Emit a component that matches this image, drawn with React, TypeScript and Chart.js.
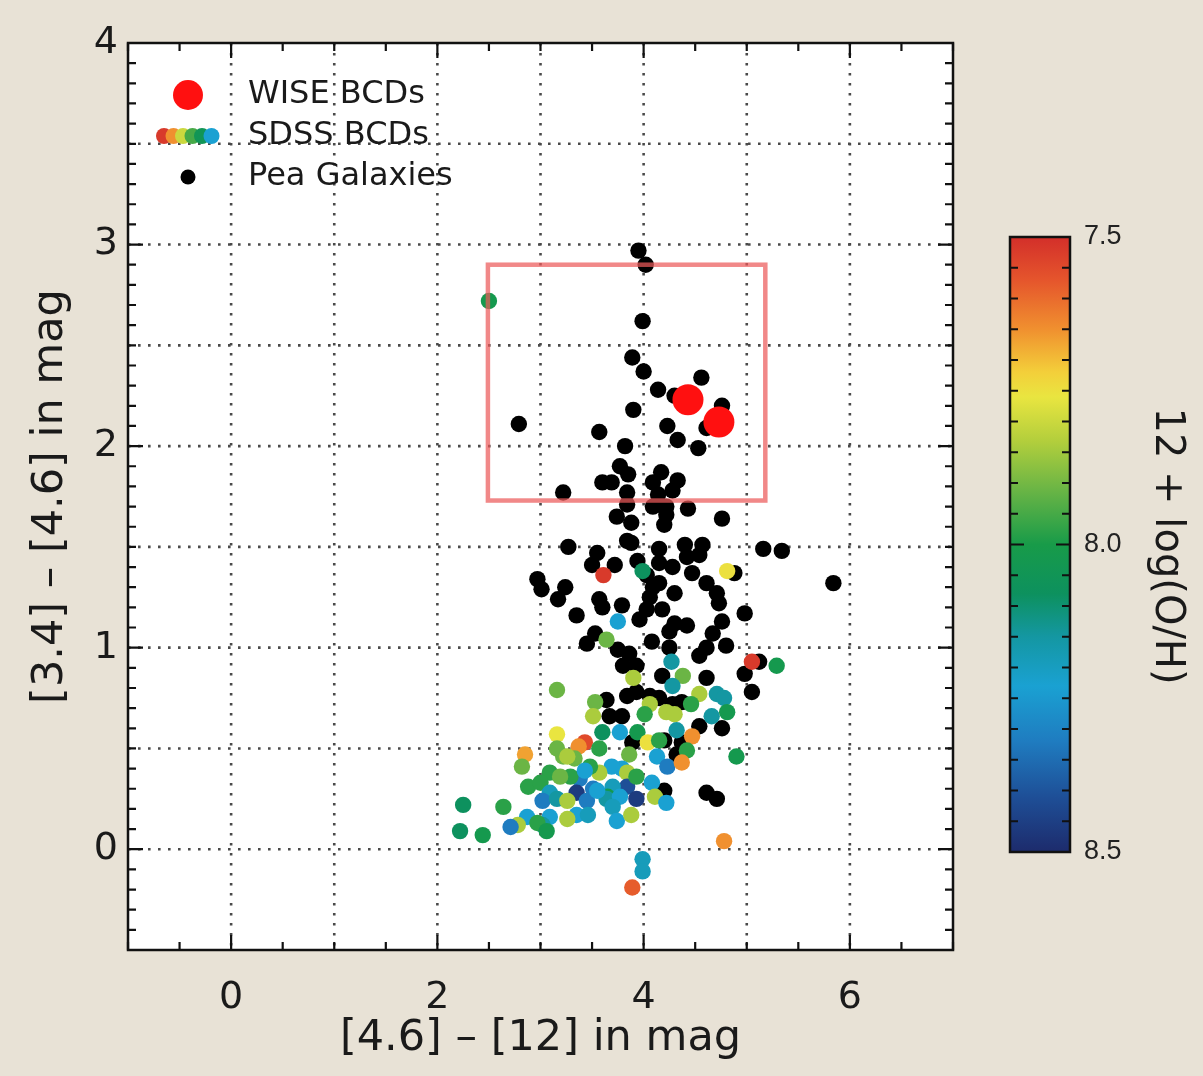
import React, { useEffect, useRef } from "react";
import { Chart, registerables } from "chart.js";

Chart.register(...registerables);

// ---------- DATA ----------
// Pea galaxies: [4.6]-[12] (x) and [3.4]-[4.6] (y)
const peaX = [
  3.95, 4.02, 3.99, 3.89, 4.0, 4.14, 4.56, 4.3, 4.76, 3.9, 4.23, 4.33, 4.53, 4.61, 2.79, 3.57, 3.82, 3.77, 3.85, 3.6,
  3.69, 3.84, 3.22, 4.17, 4.33, 4.09, 4.28, 4.14, 3.84, 4.09, 4.22, 4.43, 3.74, 3.88, 4.22, 4.2, 4.76, 3.84, 3.27, 3.55,
  3.5, 3.72, 3.94, 4.15, 4.4, 4.57, 4.42, 4.54, 5.16, 5.34, 4.15, 4.28, 4.47, 4.88, 5.84, 2.97, 3.01, 3.24, 3.17, 3.35,
  3.57, 3.6, 3.79, 4.03, 4.15, 4.3, 4.06, 4.03, 3.96, 4.18, 4.3, 4.42, 4.25, 4.61, 4.71, 4.73, 4.76, 4.67, 4.98, 3.53,
  3.45, 3.75, 3.86, 4.08, 4.25, 4.54, 4.61, 4.8, 3.8, 3.93, 4.18, 4.61, 4.98, 5.12, 5.05, 3.64, 3.84, 3.93, 4.06, 4.15,
  3.67, 3.79, 4.28, 4.37, 4.54, 4.76, 4.37, 4.2, 4.61, 4.71, 4.2, 4.09, 3.89, 4.32, 3.88, 4.15,
];
const peaY = [
  2.97, 2.9, 2.62, 2.44, 2.37, 2.28, 2.34, 2.25, 2.2, 2.18, 2.1, 2.03, 1.99, 2.09, 2.11, 2.07, 2.0, 1.9, 1.86, 1.82,
  1.82, 1.77, 1.77, 1.87, 1.83, 1.82, 1.78, 1.76, 1.71, 1.7, 1.7, 1.69, 1.65, 1.62, 1.66, 1.61, 1.64, 1.53, 1.5, 1.47,
  1.41, 1.41, 1.43, 1.49, 1.51, 1.51, 1.45, 1.46, 1.49, 1.48, 1.42, 1.4, 1.37, 1.37, 1.32, 1.34, 1.29, 1.3, 1.24, 1.16,
  1.24, 1.2, 1.21, 1.36, 1.32, 1.27, 1.25, 1.19, 1.14, 1.19, 1.12, 1.11, 1.08, 1.32, 1.27, 1.22, 1.13, 1.07, 1.17, 1.07,
  1.02, 0.99, 0.97, 1.03, 1.0, 0.96, 1.0, 1.01, 0.91, 0.91, 0.86, 0.85, 0.87, 0.93, 0.78, 0.74, 0.76, 0.78, 0.76, 0.75,
  0.66, 0.66, 0.72, 0.73, 0.61, 0.6, 0.53, 0.54, 0.28, 0.25, 0.29, 1.3, 0.53, 0.47, 1.52, 1.71,
];

// SDSS BCDs: colours plus metallicity 12 + log(O/H)
const sdssX = [
  2.5, 3.61, 3.99, 4.81, 3.75, 3.64, 5.05, 5.29, 4.27, 4.38, 4.28, 3.9, 4.71, 4.54, 3.16, 3.53, 3.51, 3.16, 3.43, 3.37,
  2.85, 3.6, 3.77, 3.94, 4.06, 4.01, 4.22, 4.3, 4.46, 4.78, 4.66, 4.81, 4.47, 4.04, 4.15, 4.32, 4.42, 4.13, 4.23, 4.37,
  3.86, 3.79, 3.84, 3.69, 3.57, 3.48, 3.33, 3.22, 4.9, 3.38, 3.29, 3.51, 3.35, 3.84, 3.93, 4.08, 4.11, 4.22, 3.7, 3.65,
  3.16, 3.26, 3.57, 2.82, 3.09, 3.19, 3.43, 2.88, 3.0, 3.09, 3.02, 3.16, 3.26, 3.45, 3.64, 3.77, 3.7, 3.35, 3.46, 3.26,
  3.09, 3.02, 2.87, 2.78, 2.71, 2.97, 3.06, 3.74, 3.88, 2.25, 2.64, 2.22, 2.44, 3.99, 3.99, 3.89, 4.78, 3.93, 3.55,
];
const sdssY = [
  2.72, 1.36, 1.38, 1.38, 1.13, 1.04, 0.93, 0.91, 0.93, 0.86, 0.81, 0.85, 0.77, 0.77, 0.79, 0.73, 0.66, 0.57, 0.53, 0.51,
  0.47, 0.58, 0.58, 0.58, 0.72, 0.67, 0.68, 0.67, 0.72, 0.75, 0.66, 0.68, 0.56, 0.53, 0.54, 0.59, 0.49, 0.46, 0.41, 0.43,
  0.47, 0.4, 0.38, 0.41, 0.38, 0.41, 0.45, 0.46, 0.46, 0.35, 0.36, 0.3, 0.28, 0.31, 0.25, 0.33, 0.26, 0.23, 0.31, 0.26,
  0.5, 0.46, 0.5, 0.41, 0.38, 0.36, 0.39, 0.31, 0.33, 0.28, 0.24, 0.25, 0.24, 0.24, 0.25, 0.26, 0.21, 0.17, 0.17, 0.15,
  0.16, 0.12, 0.16, 0.12, 0.11, 0.13, 0.09, 0.14, 0.17, 0.22, 0.21, 0.09, 0.07, -0.05, -0.11, -0.19, 0.04, 0.36, 0.29,
];
const sdssZ = [
  8.02, 7.52, 8.08, 7.75, 8.23, 7.91, 7.52, 8.02, 8.15, 7.91, 8.15, 7.84, 8.15, 7.84, 7.91, 7.91, 7.84, 7.76, 7.55, 7.65,
  7.67, 8.08, 8.23, 8.02, 7.84, 7.98, 7.84, 7.84, 7.98, 8.15, 8.15, 8.02, 7.65, 7.75, 7.98, 8.15, 7.98, 8.23, 8.32, 7.65,
  7.91, 8.23, 7.84, 8.23, 7.84, 7.98, 7.91, 7.91, 8.02, 8.32, 7.98, 8.32, 8.46, 8.41, 8.46, 8.23, 7.84, 8.23, 8.19, 8.02,
  7.91, 7.84, 7.98, 7.91, 7.98, 7.91, 8.23, 7.98, 7.98, 8.19, 8.32, 8.15, 7.84, 8.32, 8.15, 8.23, 8.19, 8.23, 8.19, 7.84,
  8.23, 8.15, 8.23, 7.84, 8.32, 7.98, 8.02, 8.23, 7.84, 8.08, 7.98, 8.08, 8.02, 8.19, 8.19, 7.58, 7.65, 7.98, 8.23,
];

// WISE BCDs
const wiseX = [4.43, 4.73];
const wiseY = [2.23, 2.12];

// Selection box (data units)
const boxX = [2.49, 5.18];
const boxY = [1.73, 2.9];

// Axis ticks
const xTicks = [0, 2, 4, 6];
const yTicks = [0, 1, 2, 3, 4];
const cbarTicks = [7.5, 8.0, 8.5];
const cbarRange = [7.5, 8.5];

const legendLabels = ["WISE BCDs", "SDSS BCDs", "Pea Galaxies"];
const legendSdssZ = [7.52, 7.65, 7.8, 7.95, 8.05, 8.23];

// colour map (fraction along 7.5 -> 8.5)
const cmapStops: [number, string][] = [
  [0.0, "#d32f2a"],
  [0.07, "#e5552c"],
  [0.15, "#f0902f"],
  [0.22, "#f3cf3a"],
  [0.26, "#e9e540"],
  [0.33, "#b4cf3c"],
  [0.41, "#6bb545"],
  [0.5, "#189b49"],
  [0.58, "#0d915e"],
  [0.65, "#1497a2"],
  [0.73, "#1aa1d2"],
  [0.82, "#1f7cc0"],
  [0.91, "#1e4f97"],
  [1.0, "#1d2b6c"],
];

const BG = "#e8e2d6";
const INK = "#1a1a1a";
const FONT = "'DejaVu Sans', sans-serif";

function hexRgb(h: string) {
  const n = parseInt(h.slice(1), 16);
  return [(n >> 16) & 255, (n >> 8) & 255, n & 255];
}
function cmap(z: number) {
  let t = (z - cbarRange[0]) / (cbarRange[1] - cbarRange[0]);
  t = Math.max(0, Math.min(1, t));
  for (let i = 1; i < cmapStops.length; i++) {
    const [t1, c1] = cmapStops[i];
    const [t0, c0] = cmapStops[i - 1];
    if (t <= t1) {
      const f = (t - t0) / (t1 - t0 || 1);
      const a = hexRgb(c0);
      const b = hexRgb(c1);
      const r = a.map((v, k) => Math.round(v + (b[k] - v) * f));
      return `rgb(${r[0]},${r[1]},${r[2]})`;
    }
  }
  return cmapStops[cmapStops.length - 1][1];
}

const decorPlugin = {
  id: "decor",
  beforeDraw(chart: any) {
    const { ctx, chartArea, width, height } = chart;
    const { left, top, right, bottom } = chartArea;
    const xs = chart.scales.x;
    const ys = chart.scales.y;
    ctx.save();
    ctx.fillStyle = BG;
    ctx.fillRect(0, 0, width, height);
    ctx.fillStyle = "#ffffff";
    ctx.fillRect(left, top, right - left, bottom - top);
    // dotted grid
    ctx.strokeStyle = "#4a4a4a";
    ctx.lineWidth = 2.6;
    ctx.setLineDash([2.6, 7.4]);
    for (let v = Math.ceil(xs.min); v <= Math.floor(xs.max); v++) {
      const px = xs.getPixelForValue(v);
      if (px <= left + 1 || px >= right - 1) continue;
      ctx.beginPath();
      ctx.moveTo(px, top);
      ctx.lineTo(px, bottom);
      ctx.stroke();
    }
    for (let i = Math.ceil(ys.min * 2); i <= Math.floor(ys.max * 2); i++) {
      const py = ys.getPixelForValue(i / 2);
      if (py <= top + 1 || py >= bottom - 1) continue;
      ctx.beginPath();
      ctx.moveTo(left, py);
      ctx.lineTo(right, py);
      ctx.stroke();
    }
    ctx.restore();
  },
  afterDatasetsDraw(chart: any) {
    const { ctx, chartArea } = chart;
    const { left, top, right, bottom } = chartArea;
    const xs = chart.scales.x;
    const ys = chart.scales.y;
    ctx.save();
    // selection box
    ctx.strokeStyle = "rgba(236,90,90,0.72)";
    ctx.lineWidth = 4.5;
    const bx0 = xs.getPixelForValue(boxX[0]);
    const bx1 = xs.getPixelForValue(boxX[1]);
    const by0 = ys.getPixelForValue(boxY[0]);
    const by1 = ys.getPixelForValue(boxY[1]);
    ctx.strokeRect(bx0, by1, bx1 - bx0, by0 - by1);

    // frame + ticks
    ctx.strokeStyle = "#111";
    ctx.lineWidth = 2.5;
    ctx.strokeRect(left, top, right - left, bottom - top);
    ctx.lineWidth = 2.2;
    for (let i = Math.ceil(xs.min * 2); i <= Math.floor(xs.max * 2); i++) {
      const v = i / 2;
      const major = xTicks.includes(v);
      const len = major ? 15 : 8;
      const px = xs.getPixelForValue(v);
      ctx.beginPath();
      ctx.moveTo(px, bottom);
      ctx.lineTo(px, bottom - len);
      ctx.moveTo(px, top);
      ctx.lineTo(px, top + len);
      ctx.stroke();
    }
    for (let i = Math.ceil(ys.min * 10); i <= Math.floor(ys.max * 10); i++) {
      const v = i / 10;
      const major = i % 10 === 0;
      const len = major ? 15 : 8;
      const py = ys.getPixelForValue(v);
      ctx.beginPath();
      ctx.moveTo(left, py);
      ctx.lineTo(left + len, py);
      ctx.moveTo(right, py);
      ctx.lineTo(right - len, py);
      ctx.stroke();
    }

    // legend
    const lx = left + 60;
    const rows = [top + 52, top + 93, top + 134];
    ctx.fillStyle = "#ff1010";
    ctx.beginPath();
    ctx.arc(lx, rows[0], 15, 0, Math.PI * 2);
    ctx.fill();
    legendSdssZ.forEach((z, k) => {
      ctx.fillStyle = cmap(z);
      ctx.beginPath();
      ctx.arc(lx - 24 + k * 9.5, rows[1], 8, 0, Math.PI * 2);
      ctx.fill();
    });
    ctx.fillStyle = "#000";
    ctx.beginPath();
    ctx.arc(lx, rows[2], 7.5, 0, Math.PI * 2);
    ctx.fill();
    ctx.fillStyle = INK;
    ctx.font = `32px ${FONT}`;
    ctx.textBaseline = "middle";
    ctx.textAlign = "left";
    legendLabels.forEach((t, k) => ctx.fillText(t, left + 120, rows[k]));

    // colour bar
    const cx0 = 1010;
    const cx1 = 1070;
    const cy0 = 237;
    const cy1 = 852;
    const grad = ctx.createLinearGradient(0, cy0, 0, cy1);
    cmapStops.forEach(([t, c]) => grad.addColorStop(t, c));
    ctx.fillStyle = grad;
    ctx.fillRect(cx0, cy0, cx1 - cx0, cy1 - cy0);
    ctx.strokeStyle = "#111";
    ctx.lineWidth = 2.5;
    ctx.strokeRect(cx0, cy0, cx1 - cx0, cy1 - cy0);
    ctx.lineWidth = 2;
    const span = cbarRange[1] - cbarRange[0];
    for (let i = 1; i < 20; i++) {
      const z = cbarRange[0] + (i * span) / 20;
      const py = cy0 + ((z - cbarRange[0]) / span) * (cy1 - cy0);
      const len = i === 10 ? 14 : 8;
      ctx.beginPath();
      ctx.moveTo(cx0, py);
      ctx.lineTo(cx0 + len, py);
      ctx.moveTo(cx1, py);
      ctx.lineTo(cx1 - len, py);
      ctx.stroke();
    }
    ctx.fillStyle = "#222";
    ctx.font = "27px 'Liberation Sans', Arial, sans-serif";
    ctx.textAlign = "left";
    ctx.textBaseline = "middle";
    cbarTicks.forEach((z) => {
      const py = cy0 + ((z - cbarRange[0]) / span) * (cy1 - cy0);
      ctx.fillText(z.toFixed(1), 1084, py);
    });
    ctx.save();
    ctx.translate(1166, 546);
    ctx.rotate(Math.PI / 2);
    ctx.fillStyle = INK;
    ctx.font = `40px ${FONT}`;
    ctx.textAlign = "center";
    ctx.textBaseline = "middle";
    ctx.fillText("12 + log(O/H)", 0, 0);
    ctx.restore();

    ctx.restore();
  },
};

export default function App() {
  const ref = useRef<HTMLCanvasElement | null>(null);
  useEffect(() => {
    document.body.style.margin = "0";
    const canvas = ref.current;
    if (!canvas) return;
    const pea = peaX.map((x, i) => ({ x, y: peaY[i] }));
    const sdss = sdssX.map((x, i) => ({ x, y: sdssY[i] }));
    const wise = wiseX.map((x, i) => ({ x, y: wiseY[i] }));
    const chart = new Chart(canvas, {
      type: "scatter",
      data: {
        datasets: [
          {
            label: legendLabels[0],
            data: wise,
            pointRadius: 15.5,
            pointBackgroundColor: "#ff1010",
            pointBorderWidth: 0,
            order: 0,
          },
          {
            label: legendLabels[1],
            data: sdss,
            pointRadius: 8.2,
            pointBackgroundColor: sdssZ.map(cmap),
            pointBorderWidth: 0,
            order: 1,
          },
          {
            label: legendLabels[2],
            data: pea,
            pointRadius: 8.2,
            pointBackgroundColor: "#000000",
            pointBorderWidth: 0,
            order: 2,
          },
        ],
      },
      options: {
        animation: false,
        responsive: false,
        devicePixelRatio: 1,
        events: [],
        layout: { padding: { left: 0, top: 43, right: 250, bottom: 0 } },
        plugins: { legend: { display: false }, tooltip: { enabled: false } },
        scales: {
          x: {
            type: "linear",
            position: "bottom",
            min: -1,
            max: 7,
            grid: { display: false, drawTicks: false },
            border: { display: false },
            afterBuildTicks: (s: any) => {
              s.ticks = xTicks.map((v) => ({ value: v }));
            },
            afterFit: (s: any) => {
              s.height = 126;
            },
            ticks: {
              font: { family: FONT, size: 38 },
              color: INK,
              padding: 25,
              maxRotation: 0,
              autoSkip: false,
            },
            title: {
              display: true,
              text: "[4.6] – [12] in mag",
              font: { family: FONT, size: 43 },
              color: INK,
              padding: { top: 0, bottom: 11 },
            },
          },
          y: {
            type: "linear",
            position: "left",
            min: -0.5,
            max: 4,
            grid: { display: false, drawTicks: false },
            border: { display: false },
            afterBuildTicks: (s: any) => {
              s.ticks = yTicks.map((v) => ({ value: v }));
            },
            afterFit: (s: any) => {
              s.width = 128;
            },
            ticks: {
              font: { family: FONT, size: 38 },
              color: INK,
              padding: 10,
              autoSkip: false,
            },
            title: {
              display: true,
              text: "[3.4] – [4.6] in mag",
              font: { family: FONT, size: 43 },
              color: INK,
              padding: { top: 25, bottom: 0 },
            },
          },
        },
      },
      plugins: [decorPlugin],
    } as any);
    return () => chart.destroy();
  }, []);
  return (
    <div style={{ width: 1203, height: 1076 }}>
      <canvas ref={ref} width={1203} height={1076} style={{ display: "block", width: 1203, height: 1076 }} />
    </div>
  );
}
